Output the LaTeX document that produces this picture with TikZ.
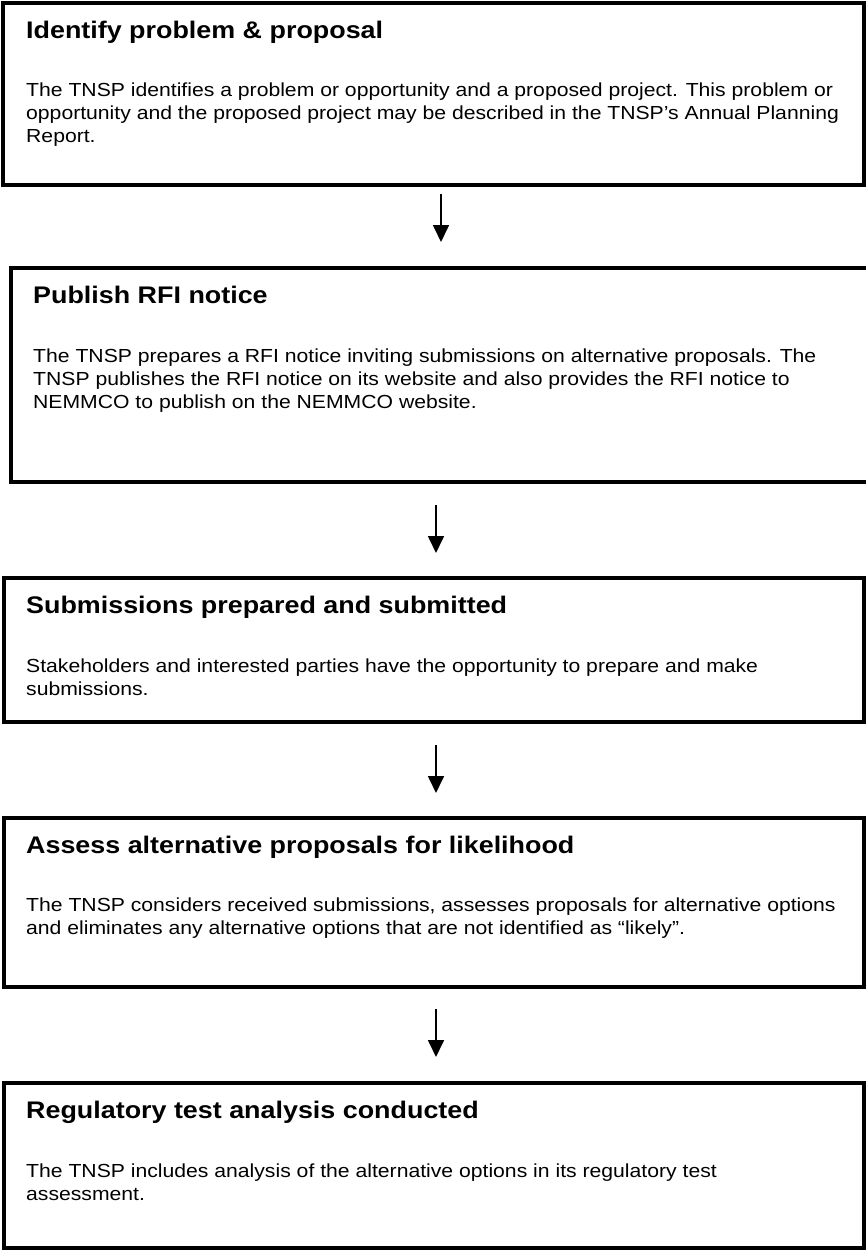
\documentclass[tikz,border=0pt]{standalone}
\usepackage{fontspec}
\setmainfont[FakeStretch=1.12]{Liberation Sans}
\usetikzlibrary{arrows.meta}
\begin{document}
\begin{tikzpicture}[x=1pt,y=-1pt,
  box/.style={draw=black, line width=3.2pt, rectangle, inner sep=0pt, outer sep=0pt},
  ttl/.style={anchor=base west, inner sep=0pt, font=\fontsize{24}{28}\selectfont\bfseries},
  body/.style={anchor=base west, inner sep=0pt, align=left, font=\fontsize{18.9}{23.4}\selectfont},
  arr/.style={line width=1.7pt, -{Triangle[width=16pt,length=17pt]}}]
\useasboundingbox (0,0) rectangle (866,1251);
\fill[white] (0,0) rectangle (866,1251);

\node[box, minimum width=861pt, minimum height=182pt] (b1) at (433.5,94) {};
\node[box, minimum width=861pt, minimum height=214pt] (b2) at (441.5,375) {};
\node[box, minimum width=860pt, minimum height=144pt] (b3) at (434,650) {};
\node[box, minimum width=860pt, minimum height=169pt] (b4) at (434,902.5) {};
\node[box, minimum width=860pt, minimum height=165pt] (b5) at (434,1165.5) {};

% body nodes: base anchor is the baseline of the last line
\node[ttl] (t1) at (26,38) {Identify problem \& proposal};
\node[body] (d1) at (26,142.8) {The TNSP identifies a problem or opportunity and a proposed project. This problem or\\opportunity and the proposed project may be described in the TNSP’s Annual Planning\\Report.};

\node[ttl] (t2) at (33,303) {Publish RFI notice};
\node[body] (d2) at (33,408.8) {The TNSP prepares a RFI notice inviting submissions on alternative proposals. The\\TNSP publishes the RFI notice on its website and also provides the RFI notice to\\NEMMCO to publish on the NEMMCO website.};

\node[ttl] (t3) at (26,613) {Submissions prepared and submitted};
\node[body] (d3) at (26,695.4) {Stakeholders and interested parties have the opportunity to prepare and make\\submissions.};

\node[ttl] (t4) at (26,853) {Assess alternative proposals for likelihood};
\node[body] (d4) at (26,934.4) {The TNSP considers received submissions, assesses proposals for alternative options\\and eliminates any alternative options that are not identified as “likely”.};

\node[ttl] (t5) at (26,1118) {Regulatory test analysis conducted};
\node[body] (d5) at (26,1200.4) {The TNSP includes analysis of the alternative options in its regulatory test\\assessment.};

\coordinate (x1) at (441,0);
\coordinate (x2) at (436,0);
\draw[arr, shorten <=9pt, shorten >=26pt] (b1.south -| x1) -- (b2.north -| x1);
\draw[arr, shorten <=23pt, shorten >=25pt] (b2.south -| x2) -- (b3.north -| x2);
\draw[arr, shorten <=23pt, shorten >=25pt] (b3.south -| x2) -- (b4.north -| x2);
\draw[arr, shorten <=22pt, shorten >=26pt] (b4.south -| x2) -- (b5.north -| x2);
\end{tikzpicture}
\end{document}
